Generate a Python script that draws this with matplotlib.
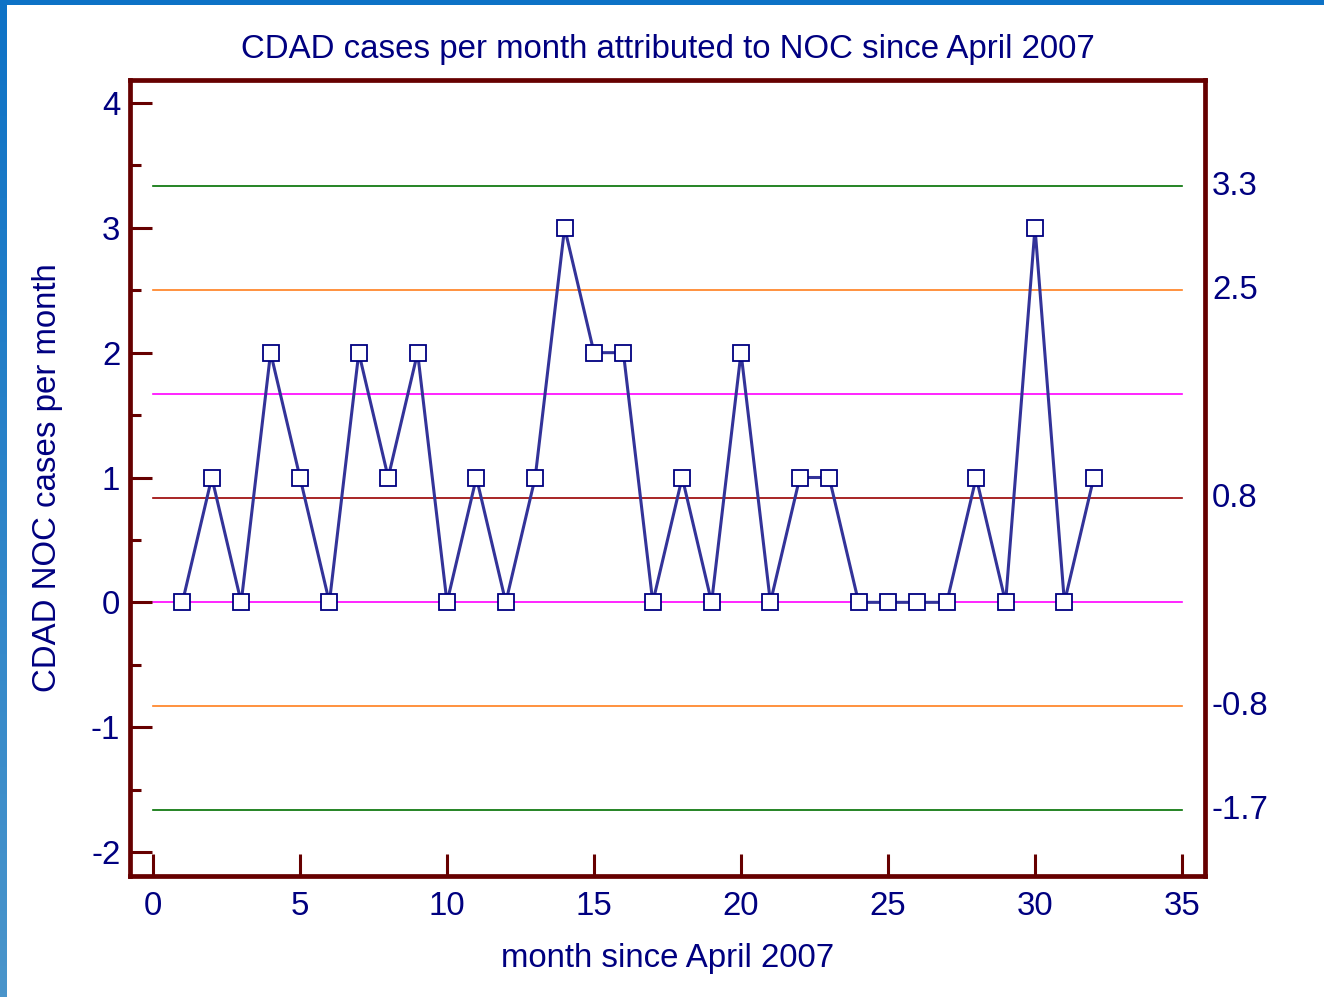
"""
CDAD cases per month attributed to NOC - control chart
"""

import numpy as np
import matplotlib.pyplot as plt
from matplotlib.colors import LinearSegmentedColormap
from matplotlib.ticker import MultipleLocator

plt.rcParams['font.family'] = ['Liberation Sans', 'DejaVu Sans']
plt.rcParams['axes.unicode_minus'] = False

# Données
mois = list(range(1, 33))
cas = [0, 1, 0, 2, 1, 0, 2, 1, 2, 0,
       1, 0, 1, 3, 2, 2, 0, 1, 0, 2,
       0, 1, 1, 0, 0, 0, 0, 1, 0, 3,
       0, 1]

# Limites de contrôle (valeur, couleur, étiquette à droite)
limites = [3.333, 2.5, 1.667, 0.833, 0.0, -0.833, -1.667]
couleurs = ['#007000', '#ff7f1e', '#ff00ff', '#990000', '#ff00ff', '#ff7f1e', '#007000']
etiquettes = ['3.3', '2.5', '', '0.8', '', '-0.8', '-1.7']

xticks = [0, 5, 10, 15, 20, 25, 30, 35]
yticks = [-2, -1, 0, 1, 2, 3, 4]

navy = '#000080'
bordeaux = '#660000'
fs = 23.8

fig = plt.figure(figsize=(13.24, 9.97), dpi=100)

# Bandeau bleu (bords de la diapositive)
gauche = fig.add_axes([0, 0, 7 / 1324, 1])
grad = LinearSegmentedColormap.from_list('g', ['#4a95cb', '#0d72c6'])
gauche.imshow(np.linspace(0, 1, 256).reshape(-1, 1), cmap=grad, aspect='auto',
              origin='lower', extent=[0, 1, 0, 1])
gauche.axis('off')
haut = fig.add_axes([0, 1 - 5 / 997, 1, 5 / 997])
haut.set_facecolor('#0d72c6')
haut.set_xticks([])
haut.set_yticks([])
for s in haut.spines.values():
    s.set_visible(False)

ax = fig.add_axes([130 / 1324, 121 / 997, 1075 / 1324, 796 / 997])
ax.set_xlim(-0.782, 35.782)
ax.set_ylim(-2.192, 4.184)

# Lignes de contrôle
for val, col, lab in zip(limites, couleurs, etiquettes):
    ax.plot([xticks[0], xticks[-1]], [val, val], color=col, lw=1.2, zorder=1)
    if lab:
        ax.text(1.0065, val, lab, transform=ax.get_yaxis_transform(),
                ha='left', va='center', fontsize=fs, color=navy)

# Série
ax.plot(mois, cas, color='#333399', lw=2.2, marker='s', markersize=12,
        markerfacecolor='white', markeredgecolor=navy, markeredgewidth=1.3,
        zorder=3)

# Repère
for s in ax.spines.values():
    s.set_color(bordeaux)
    s.set_linewidth(3.4)

ax.set_xticks(xticks)
ax.set_yticks(yticks)
ax.yaxis.set_minor_locator(MultipleLocator(0.5))
ax.tick_params(which='major', direction='in', length=16, width=2.2,
               color=bordeaux, labelsize=fs, labelcolor=navy, pad=7)
ax.tick_params(which='minor', direction='in', length=8, width=2.2,
               color=bordeaux)
ax.tick_params(axis='x', pad=11)

ax.set_title('CDAD cases per month attributed to NOC since April 2007',
             fontsize=fs, color=navy, pad=16)
ax.set_xlabel('month since April 2007', fontsize=fs, color=navy, labelpad=15)
ax.set_ylabel('CDAD NOC cases per month', fontsize=fs, color=navy, labelpad=20)

fig.savefig('out.png', dpi=100)
